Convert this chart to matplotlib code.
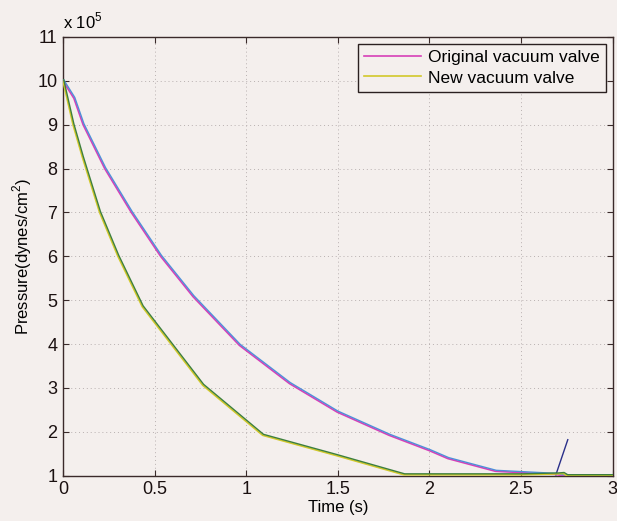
import matplotlib
matplotlib.use("Agg")
import matplotlib.pyplot as plt
import matplotlib.transforms as mtransforms
import numpy as np

plt.rcParams['font.family'] = ['Liberation Sans', 'DejaVu Sans']
plt.rcParams['mathtext.fontset'] = 'custom'
plt.rcParams['mathtext.rm'] = 'Liberation Sans'

# ---------------------- Data (pressure in units of 1e5 dynes/cm^2)

t_orig = [0, 0.06, 0.11, 0.228, 0.373, 0.533, 0.71, 0.963, 1.236, 1.496,
          1.78, 2.0, 2.1, 2.36, 2.5, 2.69, 2.72, 3.0]
p_orig = [10, 9.6, 9.0, 8.0, 7.0, 6.0, 5.08, 3.97, 3.10, 2.45,
          1.92, 1.57, 1.39, 1.10, 1.07, 1.03, 1.0, 1.0]

# short dark tail of the second trace at the end of the run
t_tail = [2.69, 2.755]
p_tail = [1.02, 1.82]

t_new = [0, 0.055, 0.106, 0.2, 0.3, 0.433, 0.763, 1.09, 1.49, 1.86,
         2.0, 2.5, 2.7, 2.73, 2.75, 3.0]
p_new = [10, 9.0, 8.26, 7.0, 6.0, 4.85, 3.06, 1.92, 1.46, 1.02,
         1.02, 1.02, 1.04, 1.05, 1.0, 1.0]

xticks = np.arange(0, 3.01, 0.5)
yticks = np.arange(1, 12, 1)

# ---------------------- Plot

paper = '#f4efed'
fig = plt.figure(figsize=(6.17, 5.21), dpi=100, facecolor=paper)
ax = fig.add_axes([0.102, 0.087, 0.891, 0.842], facecolor=paper)

# small shift so the paired traces sit side by side like in the print
shift = mtransforms.ScaledTranslation(0.6/72, 0.7/72, fig.dpi_scale_trans)

l1, = ax.plot(t_orig, p_orig, color='#d63fb8', linewidth=1.2, zorder=3)
ax.plot(t_orig, p_orig, color='#4f8fd8', linewidth=1.0, zorder=3,
        transform=ax.transData + shift)
ax.plot(t_tail, p_tail, color='#2a2f8a', linewidth=1.0, zorder=3)

l2, = ax.plot(t_new, p_new, color='#d2c82a', linewidth=1.2, zorder=4)
ax.plot(t_new, p_new, color='#3d7f3d', linewidth=1.0, zorder=4,
        transform=ax.transData + shift)

ax.set_xlim(0, 3)
ax.set_ylim(1, 11)
ax.set_xticks(xticks)
ax.set_xticklabels(['0', '0.5', '1', '1.5', '2', '2.5', '3'])
ax.set_yticks(yticks)
ax.tick_params(direction='in', top=True, right=True, labelsize=13,
               length=4, color='#3a2a2a', labelcolor='#1a1010', pad=4)
ax.grid(True, linestyle=(0, (1, 3)), color='#b8b0b0', linewidth=0.7)
for s in ax.spines.values():
    s.set_color('#3a2a2a')
    s.set_linewidth(1.0)

ax.set_xlabel('Time (s)', fontsize=12, labelpad=1)
ax.set_ylabel('Pressure(dynes/cm$^2$)', fontsize=12, labelpad=2)
ax.text(0.0, 1.012, r'x 10$^5$', transform=ax.transAxes, fontsize=12,
        ha='left', va='bottom')

leg = ax.legend([l1, l2], ['Original vacuum valve', 'New vacuum valve'],
                loc='upper right', fontsize=12.5, fancybox=False,
                framealpha=1, borderaxespad=0.4, handlelength=3.3,
                handletextpad=0.4, borderpad=0.35, labelspacing=0.3)
leg.get_frame().set_edgecolor('#2a2020')
leg.get_frame().set_facecolor(paper)
leg.get_frame().set_linewidth(1.0)

plt.savefig('out.png', dpi=100, facecolor=paper)
